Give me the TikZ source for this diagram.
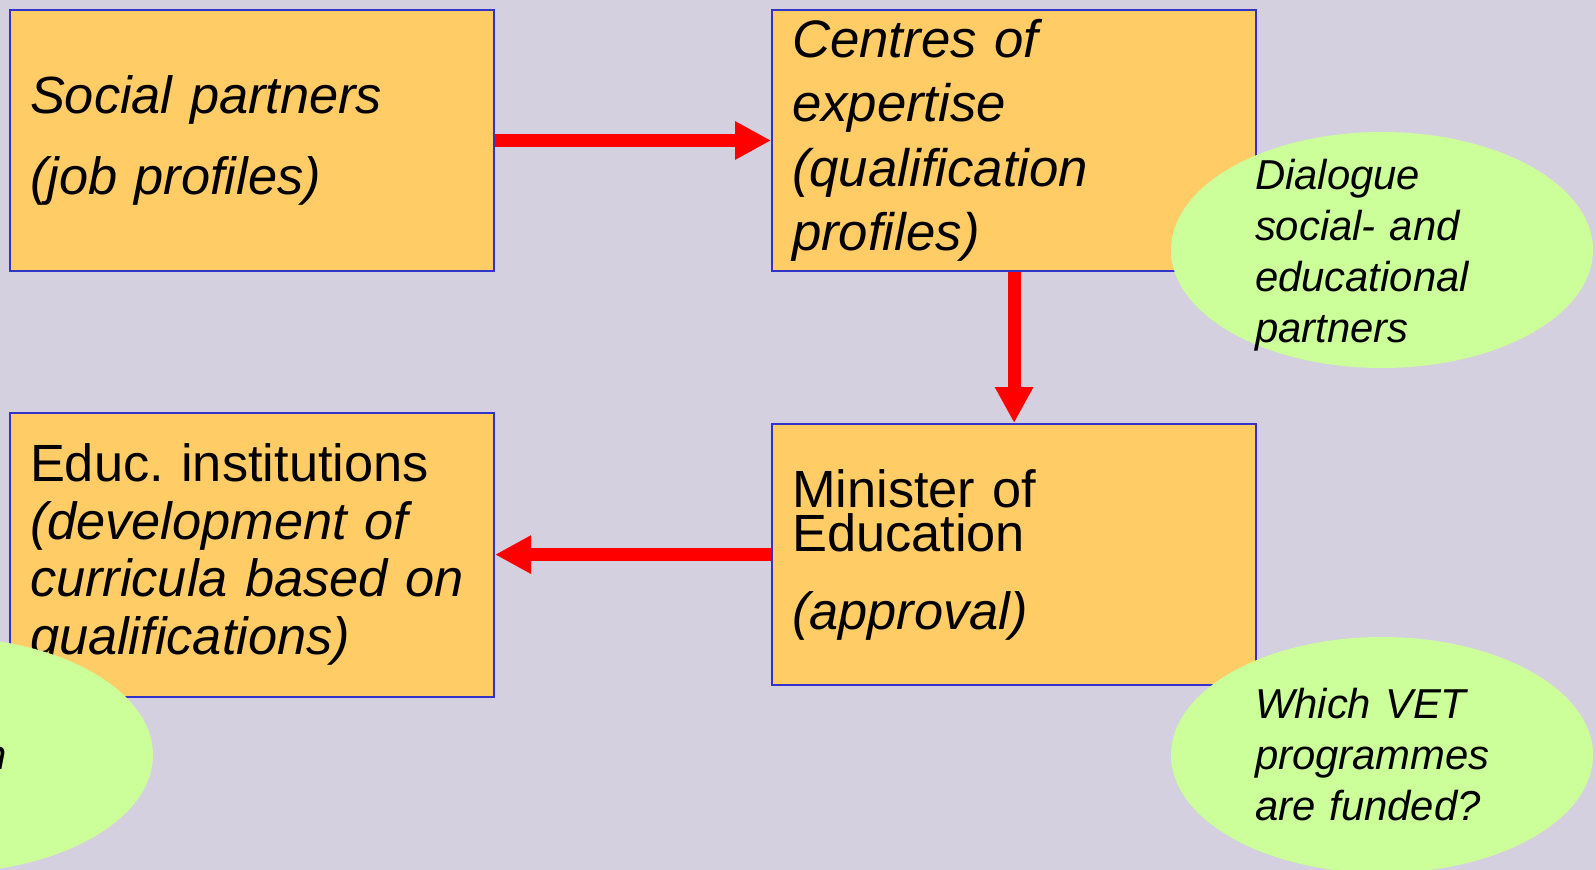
\documentclass[tikz,border=0pt]{standalone}
\usepackage{fontspec}
\setmainfont{Liberation Sans}
\usepackage{xcolor}
\usetikzlibrary{positioning, arrows.meta, shapes.geometric}

\definecolor{slidebg}{RGB}{212,208,224}
\definecolor{boxfill}{RGB}{255,204,102}
\definecolor{boxline}{RGB}{51,51,204}
\definecolor{bubble}{RGB}{204,255,153}
\frenchspacing

\begin{document}
\begin{tikzpicture}[node distance=2.76cm, >={Triangle[length=0.36cm,width=0.36cm]},
    stage/.style={draw=boxline, line width=0.6pt, fill=boxfill, minimum width=4.84cm, minimum height=2.61cm,
      text width=4.44cm, inner xsep=0.2cm, inner ysep=0.03cm, align=left},
    bubblenode/.style={ellipse, fill=bubble, minimum width=4.22cm, minimum height=2.36cm, inner sep=0pt},
    bubbletext/.style={text width=2.54cm, align=left, inner sep=0pt, font=\fontsize{11.9}{14.5}\selectfont\itshape},
    flow/.style={->, red, line width=0.13cm}]
       % Slide
       \useasboundingbox (0,0) rectangle (15.96,-8.70);
       \clip (0,0) rectangle (15.96,-8.70);
       \fill[slidebg] (0,0) rectangle (15.96,-8.70);

       % Boxes
       \node[stage, font=\fontsize{14.9}{22.8}\selectfont\itshape] (social) at (2.52,-1.405) {Social partners\\(job profiles)};
       \node[stage, right=of social, font=\fontsize{15}{18.3}\selectfont\itshape] (centres) {Centres of\\expertise\\(qualification\\profiles)};
       \node[stage, below=1.51cm of centres, font=\fontsize{14.9}{12.5}\selectfont] (minister) {Minister of\\Education\\[9.7pt]\textit{(approval)}};
       \node[stage, left=of minister, minimum height=2.84cm, font=\fontsize{14.9}{16.4}\selectfont] (educ) {Educ. institutions\\\itshape (development of\\curricula based on\\qualifications)};

       % Arrows
       \draw[flow] (social) -- (centres);
       \draw[flow] (centres) -- (minister);
       \draw[flow] (minister) -- (educ);

       % Bubbles
       \node[bubblenode] (dialogue) at (13.82,-2.50) {};
       \node[bubbletext, yshift=-0.05cm] (dialoguetext) at (dialogue.center) {Dialogue\\social- and\\educational\\partners};
       \node[bubblenode] (funding) at (13.82,-7.55) {};
       \node[bubbletext] (fundingtext) at (funding.center) {Which VET\\programmes\\are funded?};
       \node[bubblenode] (leftbubble) at (-0.58,-7.55) {};
       \node[inner sep=0pt, anchor=base east, font=\fontsize{11.9}{14.5}\selectfont\itshape] (lefttext) at (0.07,-7.70) {n};
\end{tikzpicture}
\end{document}
